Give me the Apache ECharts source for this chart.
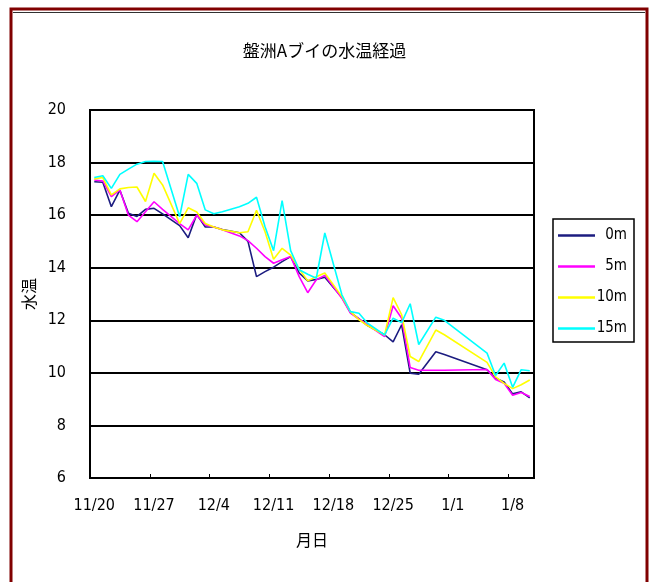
<!DOCTYPE html>
<html><head><meta charset="utf-8">
<script src="https://cdn.jsdelivr.net/npm/echarts@6/dist/echarts.min.js"></script>
<style>html,body{margin:0;padding:0;background:#fff}#c{width:649px;height:582px}</style>
</head><body><div id="c"></div>
<script>
const titleText = '盤洲Aブイの水温経過';
const dates = ['11/20','11/21','11/22','11/23','11/24','11/25','11/26','11/27','11/28','11/29','11/30',
 '12/1','12/2','12/3','12/4','12/5','12/6','12/7','12/8','12/9','12/10','12/11','12/12','12/13','12/14','12/15',
 '12/16','12/17','12/18','12/19','12/20','12/21','12/22','12/23','12/24','12/25','12/26','12/27','12/28','12/29',
 '12/30','12/31','1/1','1/2','1/3','1/4','1/5','1/6','1/7','1/8','1/9','1/10'];
const seriesNames = ['0m','5m','10m','15m'];
const t0m = [17.27,17.25,16.32,16.95,16.07,15.95,16.22,16.26,16.05,null,15.6,
 15.14,16.03,15.55,15.55,15.45,null,15.33,15.0,13.66,13.85,14.02,14.23,14.42,13.8,13.5,
 13.55,13.64,null,12.87,12.3,12.05,11.8,null,11.45,11.18,11.83,9.99,9.95,null,
 10.8,10.7,null,null,null,null,10.12,9.8,9.65,9.2,9.28,9.05];
const t5m = [17.34,17.3,16.7,16.96,16.0,15.75,16.13,16.51,16.22,null,15.68,
 15.44,16.0,15.63,15.55,15.44,null,15.21,15.03,14.74,14.42,14.17,14.3,14.43,13.66,13.05,
 13.54,13.71,null,12.84,12.27,12.05,11.83,null,11.38,12.55,12.08,10.2,10.1,null,
 10.1,10.1,null,null,null,null,10.13,9.75,9.6,9.15,9.25,9.1];
const t10m = [17.38,17.43,16.77,17.0,17.05,17.07,16.52,17.59,17.15,null,15.68,
 16.28,16.12,15.68,15.55,15.44,null,15.33,15.37,16.18,15.37,14.32,14.74,14.48,13.95,13.5,
 13.66,13.8,null,12.9,12.33,12.02,11.8,null,11.44,12.86,12.21,10.62,10.43,null,
 11.63,11.45,null,null,null,null,10.4,9.85,9.6,9.4,9.55,9.73];
const t15m = [17.43,17.5,17.02,17.55,17.75,17.94,18.04,18.05,18.04,null,15.94,
 17.55,17.21,16.2,16.05,16.13,null,16.32,16.45,16.68,15.56,14.65,16.55,14.65,13.92,13.75,
 13.6,15.32,null,12.97,12.33,12.27,11.89,null,11.44,12.08,11.91,12.63,11.08,null,
 12.12,12.0,null,null,null,null,10.75,9.9,10.37,9.45,10.12,10.08];
const colors = ['#1c1c80','#ff00ff','#ffff00','#00ffff'];
const values = [t0m,t5m,t10m,t15m];
const numFont = '"Liberation Sans Narrow","DejaVu Sans Condensed","Liberation Sans",sans-serif';
const jpFont = '"Noto Sans CJK JP",sans-serif';

const chart = echarts.init(document.getElementById('c'), null, {renderer:'canvas'});
chart.setOption({
  animation:false,
  backgroundColor:'#fff',
  title:{text:titleText,left:'center',top:37,textStyle:{fontFamily:jpFont,fontSize:17,fontWeight:'normal',color:'#000'}},
  grid:{left:90,right:115,top:110,bottom:104,show:true,borderColor:'#000',borderWidth:2,backgroundColor:'#fff'},
  legend:{
    orient:'vertical',left:553,top:219,
    padding:[9,7,6,5],itemGap:16,itemWidth:37,itemHeight:2.5,
    icon:'rect',
    borderColor:'#000',borderWidth:1.5,
    data:seriesNames,
    formatter:'{a|{name}}',
    textStyle:{rich:{a:{width:27,height:14,align:'right',fontFamily:numFont,fontSize:15,color:'#000',lineHeight:14}}}
  },
  xAxis:{
    type:'category',data:dates,boundaryGap:true,
    name:'月日',nameLocation:'middle',nameGap:54,
    nameTextStyle:{fontFamily:jpFont,fontSize:16,color:'#000'},
    axisLine:{lineStyle:{color:'#000',width:2}},
    axisTick:{show:true,inside:true,length:4,interval:6,lineStyle:{color:'#000',width:1}},
    axisLabel:{interval:6,margin:20,fontFamily:numFont,fontSize:16,color:'#000'},
    splitLine:{show:false}
  },
  yAxis:{
    type:'value',min:6,max:20,interval:2,
    name:'水温',nameLocation:'middle',nameGap:52,
    nameTextStyle:{fontFamily:jpFont,fontSize:16,color:'#000'},
    axisLine:{show:true,lineStyle:{color:'#000',width:2}},
    axisTick:{show:false},
    axisLabel:{margin:24,fontFamily:numFont,fontSize:16,color:'#000'},
    splitLine:{show:true,lineStyle:{color:'#000',width:2}}
  },
  series:values.map((v,i)=>({
    name:seriesNames[i],type:'line',data:v,connectNulls:true,
    symbol:'none',showSymbol:false,
    lineStyle:{color:colors[i],width:1.6},itemStyle:{color:colors[i]}
  })),
  graphic:[
    {type:'rect',silent:true,z:100,shape:{x:11,y:9,width:636,height:620},style:{fill:null,stroke:'#800000',lineWidth:3}},
    {type:'line',silent:true,z:100,shape:{x1:13,y1:12.5,x2:645,y2:12.5},style:{stroke:'#303030',lineWidth:1}}
  ]
});
</script>
</body></html>
